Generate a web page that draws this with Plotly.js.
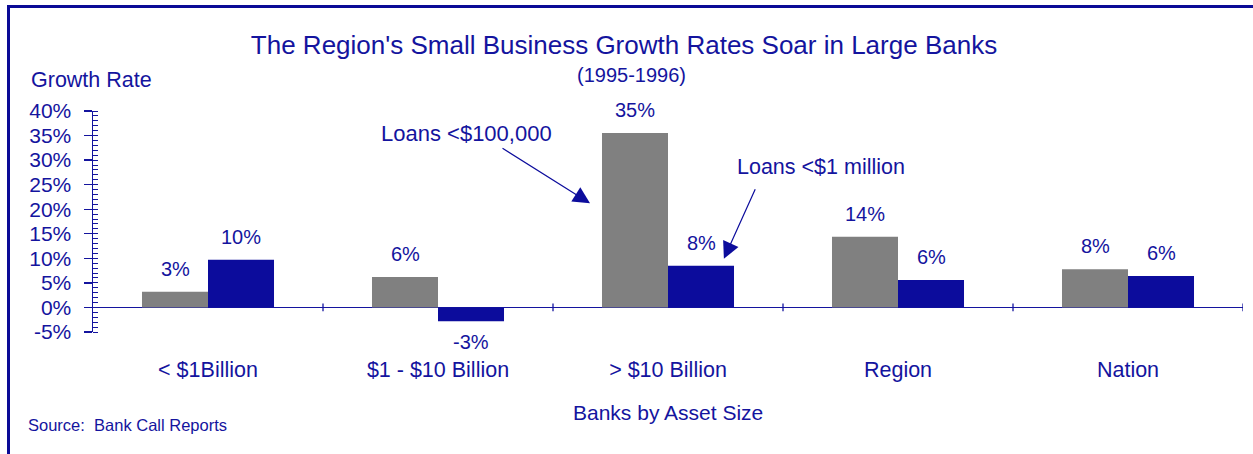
<!DOCTYPE html>
<html>
<head>
<meta charset="utf-8">
<script src="https://cdn.plot.ly/plotly-3.0.1.min.js"></script>
<style>
  html, body { margin: 0; padding: 0; background: #fff; }
  #wrap { position: absolute; left: 0; top: 0; width: 1253px; height: 454px; overflow: hidden; }
  #frame { position: absolute; left: 7px; top: 5px; width: 1246px; height: 449px;
           border-top: 3px solid #0a0a96; border-left: 3px solid #0a0a96; box-sizing: border-box; pointer-events: none; z-index: 5; }
  #chart { position: absolute; left: 0; top: 0; width: 1253px; height: 454px; }
</style>
</head>
<body>
<div id="wrap">
  <div id="chart"></div>
  <div id="frame"></div>
</div>
<script>
// ---- data ----
const categories = ["< $1Billion", "$1 - $10 Billion", "> $10 Billion", "Region", "Nation"];
const seriesNames = ["Loans <$100,000", "Loans <$1 million"];
const smallLoans = [3.2, 6.2, 35.5, 14.4, 7.8];      // % growth, loans < $100,000
const millionLoans = [9.7, -2.8, 8.5, 5.6, 6.4];     // % growth, loans < $1 million
const smallLabels = ["3%", "6%", "35%", "14%", "8%"];
const millionLabels = ["10%", "-3%", "8%", "6%", "6%"];
const yTickVals = [-5, 0, 5, 10, 15, 20, 25, 30, 35, 40];
const yTickText = ["-5%", "0%", "5%", "10%", "15%", "20%", "25%", "30%", "35%", "40%"];

// ---- style ----
const NAVY = "#14149e";
const BLUE = "#0c0c9c";
const GREY = "#808080";
const FONT = "Liberation Sans, Arial, sans-serif";

const traces = [
  { type: "bar", name: seriesNames[0], x: categories, y: smallLoans,
    marker: { color: GREY }, hoverinfo: "skip" },
  { type: "bar", name: seriesNames[1], x: categories, y: millionLoans,
    marker: { color: BLUE }, hoverinfo: "skip" }
];

const bargap = 0.426;
const barW = (1 - bargap) / 2;
const annotations = [];
categories.forEach((c, i) => {
  [[smallLoans, smallLabels, -1], [millionLoans, millionLabels, 1]].forEach(([vals, labs, side]) => {
    const v = vals[i];
    annotations.push({
      xref: "x", yref: "y", x: i + side * barW / 2, y: v,
      text: labs[i], showarrow: false,
      yshift: v >= 0 ? 23 : -21, yanchor: "middle", xanchor: "center",
      font: { family: FONT, size: 20, color: NAVY }
    });
  });
});

// arrows pointing to bars of "> $10 Billion"
annotations.push({
  xref: "x", yref: "y", x: 2 - 0.339, y: 21.2, ax: -89, ay: -56,
  text: "", showarrow: true, arrowhead: 2, arrowsize: 2.8, arrowwidth: 1.2, arrowcolor: BLUE
});
annotations.push({
  xref: "x", yref: "y", x: 2 + 0.243, y: 9.9, ax: 32, ay: -71,
  text: "", showarrow: true, arrowhead: 2, arrowsize: 2.8, arrowwidth: 1.2, arrowcolor: BLUE
});
annotations.push({
  xref: "x", yref: "y", x: 2 - 0.874, y: 35.4, text: seriesNames[0], showarrow: false,
  xanchor: "center", yanchor: "middle", font: { family: FONT, size: 22, color: NAVY }
});
annotations.push({
  xref: "x", yref: "y", x: 2 + 0.665, y: 28.5, text: seriesNames[1], showarrow: false,
  xanchor: "center", yanchor: "middle", font: { family: FONT, size: 21.5, color: NAVY }
});

// titles / texts
annotations.push({
  xref: "paper", yref: "paper", x: 0.5, y: 1, yshift: 36, xshift: -37,
  text: "(1995-1996)", showarrow: false, xanchor: "center", yanchor: "middle",
  font: { family: FONT, size: 20, color: NAVY }
});
annotations.push({
  xref: "paper", yref: "paper", x: 0, y: 1, xshift: -64, yshift: 31,
  text: "Growth Rate", showarrow: false, xanchor: "left", yanchor: "middle",
  font: { family: FONT, size: 21.5, color: NAVY }
});
annotations.push({
  xref: "paper", yref: "paper", x: 0.5, y: 0, yshift: -80,
  text: "Banks by Asset Size", showarrow: false, xanchor: "center", yanchor: "middle",
  font: { family: FONT, size: 21, color: NAVY }
});
annotations.push({
  xref: "paper", yref: "paper", x: 0, y: 0, xshift: -67, yshift: -93,
  text: "Source:  Bank Call Reports", showarrow: false, xanchor: "left", yanchor: "middle",
  font: { family: FONT, size: 16.5, color: NAVY }
});

// category boundary ticks on the zero line
const shapes = [];
for (let i = 1; i <= categories.length; i++) {
  shapes.push({ type: "line", xref: "x", yref: "y", x0: i - 0.5, x1: i - 0.5, y0: -0.8, y1: 0.8,
                line: { color: NAVY, width: 1.3 } });
}

const layout = {
  width: 1253, height: 454,
  margin: { l: 93, r: 10, t: 111, b: 122 },
  paper_bgcolor: "#fff", plot_bgcolor: "rgba(0,0,0,0)",
  showlegend: false,
  barmode: "group", bargap: bargap, bargroupgap: 0,
  font: { family: FONT, color: NAVY },
  title: { text: "The Region's Small Business Growth Rates Soar in Large Banks",
           x: 0.498, xanchor: "center", y: 1 - 45 / 454, yanchor: "middle", yref: "container",
           font: { family: FONT, size: 26, color: NAVY } },
  xaxis: {
    type: "category", range: [-0.5, categories.length - 0.5],
    showline: false, showgrid: false, zeroline: false, ticks: "",
    ticklabelstandoff: 22,
    tickfont: { family: FONT, size: 21.5, color: NAVY }
  },
  yaxis: {
    range: [-5, 40], tickvals: yTickVals, ticktext: yTickText,
    showline: true, linecolor: NAVY, linewidth: 1.5,
    ticks: "outside", ticklen: 8, tickwidth: 1.3, tickcolor: NAVY,
    minor: { dtick: 1, ticks: "inside", ticklen: 5, tickwidth: 1, tickcolor: NAVY, showgrid: false },
    showgrid: false, zeroline: true, zerolinecolor: NAVY, zerolinewidth: 1.5,
    tickfont: { family: FONT, size: 21, color: NAVY }, ticklabelstandoff: 8
  },
  annotations: annotations,
  shapes: shapes
};

Plotly.newPlot("chart", traces, layout, { displayModeBar: false, staticPlot: true });
</script>
</body>
</html>
